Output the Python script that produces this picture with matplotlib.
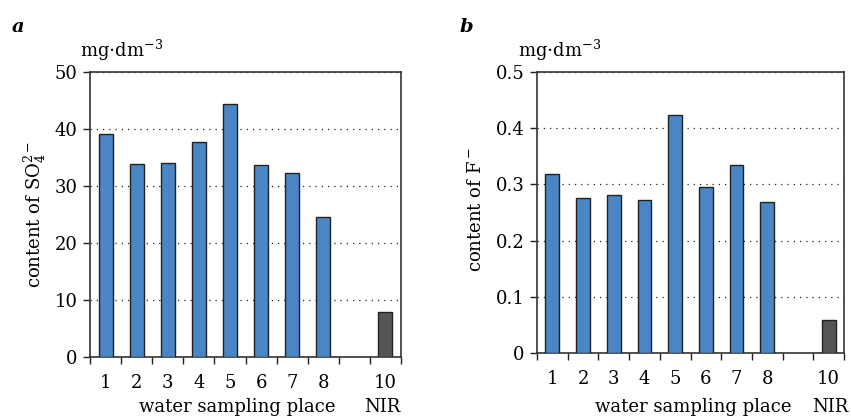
import matplotlib
matplotlib.use('Agg')
import matplotlib.pyplot as plt
import numpy as np

plt.rcParams['font.family'] = ['DejaVu Serif']
plt.rcParams['mathtext.fontset'] = 'dejavuserif'
plt.rcParams['font.size'] = 13

places = [1, 2, 3, 4, 5, 6, 7, 8]
nir_place = 10
so4 = [39.1, 33.8, 34.1, 37.7, 44.4, 33.6, 32.2, 24.6]
so4_nir = 7.9
fluor = [0.319, 0.276, 0.281, 0.273, 0.423, 0.295, 0.335, 0.269]
fluor_nir = 0.058
tick_pos = places + [nir_place]
tick_labels = [str(p) for p in tick_pos]

blue = '#4a86c6'
grey = '#555555'
edge = '#222222'

fig = plt.figure(figsize=(8.51, 4.17), dpi=100)
ax_a = fig.add_axes([0.1058, 0.1439, 0.3654, 0.6834])
ax_b = fig.add_axes([0.631, 0.1535, 0.3608, 0.6738])


def style_axis(ax, vals, nir_val, ymax, yticks, yticklabels):
    ax.bar(places, vals, width=0.45, color=blue, edgecolor=edge, lw=1, zorder=3)
    ax.bar([nir_place], [nir_val], width=0.45, color=grey, edgecolor=edge, lw=1, zorder=3)
    ax.set_xlim(0.5, 10.5)
    ax.set_ylim(0, ymax)
    ax.set_yticks(yticks)
    ax.set_yticklabels(yticklabels)
    ax.set_xticks(tick_pos)
    ax.set_xticklabels(tick_labels)
    ax.set_xticks(np.arange(0.5, 11, 1), minor=True)
    ax.tick_params(axis='x', which='major', length=0, pad=12)
    ax.tick_params(axis='x', which='minor', length=5, direction='out', width=1, color=edge)
    ax.tick_params(axis='y', length=5, direction='out', width=1, color=edge, pad=4)
    ax.grid(axis='y', color='#222222', linestyle=(0, (1, 4)), lw=0.9, zorder=1)
    for s in ax.spines.values():
        s.set_color('#333333')
        s.set_linewidth(1.2)


style_axis(ax_a, so4, so4_nir, 50, [0, 10, 20, 30, 40, 50],
           ['0', '10', '20', '30', '40', '50'])
style_axis(ax_b, fluor, fluor_nir, 0.5, [0, 0.1, 0.2, 0.3, 0.4, 0.5],
           ['0', '0.1', '0.2', '0.3', '0.4', '0.5'])

ax_a.set_ylabel(r'content of SO$_4^{2-}$', fontsize=13)
ax_a.yaxis.set_label_coords(-0.135, 0.5)
ax_b.set_ylabel(r'content of F$^-$', fontsize=13)
ax_b.yaxis.set_label_coords(-0.17, 0.51)

fig.text(12 / 851, 1 - 32 / 417, 'a', fontsize=14, fontweight='bold', fontstyle='italic')
fig.text(460 / 851, 1 - 32 / 417, 'b', fontsize=14, fontweight='bold', fontstyle='italic')
fig.text(80 / 851, 1 - 57 / 417, r'mg$\cdot$dm$^{-3}$', fontsize=13, va='baseline')
fig.text(518 / 851, 1 - 57 / 417, r'mg$\cdot$dm$^{-3}$', fontsize=13, va='baseline')

fig.text(237 / 851, 1 - 412 / 417, 'water sampling place', ha='center', va='baseline')
fig.text(382 / 851, 1 - 412 / 417, 'NIR', ha='center', va='baseline')
fig.text(693 / 851, 1 - 412 / 417, 'water sampling place', ha='center', va='baseline')
fig.text(830 / 851, 1 - 412 / 417, 'NIR', ha='center', va='baseline')

fig.savefig('out.png', dpi=100)
